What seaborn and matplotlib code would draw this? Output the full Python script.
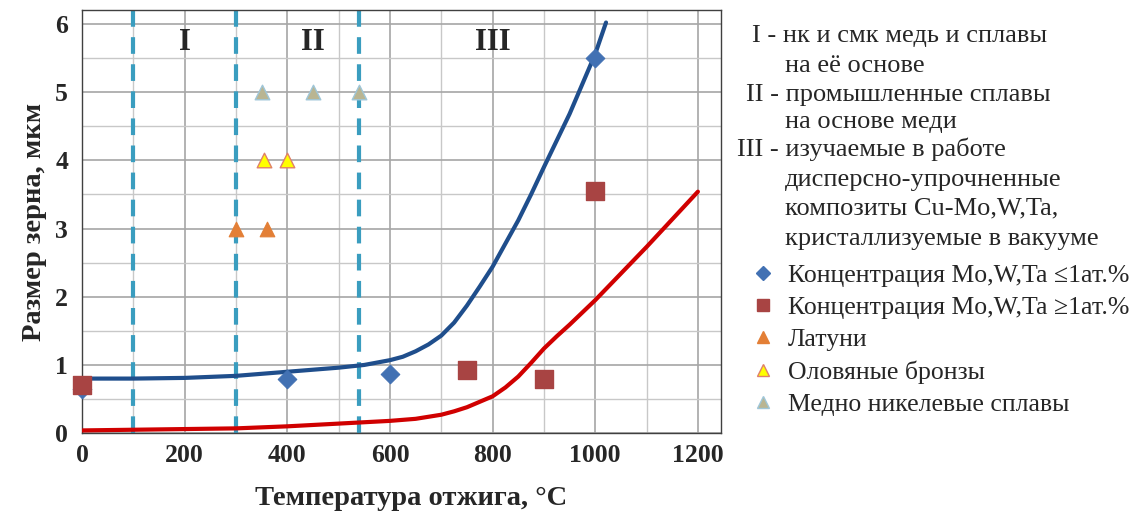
import matplotlib
matplotlib.use("Agg")
import matplotlib.pyplot as plt
import seaborn as sns
from matplotlib.ticker import MultipleLocator
from matplotlib.lines import Line2D

# data
low_x = [0, 400, 600, 1000]
low_y = [0.65, 0.8, 0.87, 5.5]
high_x = [0, 750, 900, 1000]
high_y = [0.7, 0.93, 0.8, 3.55]
brass_x = [300, 360]
brass_y = [3.0, 3.0]
bronze_x = [355, 400]
bronze_y = [4.0, 4.0]
cuni_x = [350, 450, 540]
cuni_y = [5.0, 5.0, 5.0]

blue_curve_x = [0, 100, 200, 300, 400, 500, 550, 600, 625, 650, 675, 700, 725, 750, 775,
                800, 825, 850, 875, 900, 925, 950, 975, 1000, 1021]
blue_curve_y = [0.80, 0.80, 0.81, 0.84, 0.90, 0.96, 1.00, 1.07, 1.12, 1.20, 1.30, 1.43, 1.62,
                1.87, 2.15, 2.44, 2.78, 3.12, 3.50, 3.90, 4.29, 4.68, 5.12, 5.56, 6.02]
red_curve_x = [0, 100, 200, 300, 400, 500, 600, 650, 700, 725, 750, 775, 800, 825, 850, 875,
               900, 925, 950, 1000, 1100, 1200]
red_curve_y = [0.04, 0.05, 0.06, 0.07, 0.10, 0.14, 0.18, 0.21, 0.27, 0.32, 0.38, 0.46, 0.54,
               0.67, 0.83, 1.03, 1.24, 1.42, 1.59, 1.95, 2.73, 3.54]

borders = [100, 300, 540]
regions = ["I", "II", "III"]
region_x = [200, 450, 800]

legend_labels = [
    "Концентрация Mo,W,Ta ≤1ат.%",
    "Концентрация Mo,W,Ta ≥1ат.%",
    "Латуни",
    "Оловяные бронзы",
    "Медно никелевые сплавы",
]
notes = [
    ("I - нк и смк медь и сплавы", 0.660, 0.930),
    ("на её основе", 0.689, 0.872),
    ("II - промышленные сплавы", 0.655, 0.814),
    ("на основе меди", 0.689, 0.762),
    ("III - изучаемые в работе", 0.647, 0.709),
    ("дисперсно-упрочненные", 0.689, 0.648),
    ("композиты Cu-Mo,W,Ta,", 0.689, 0.592),
    ("кристаллизуемые в вакууме", 0.689, 0.534),
]

sns.set_theme(style="white")
serif = ["Liberation Serif", "DejaVu Serif"]
plt.rcParams["font.family"] = serif

fig = plt.figure(figsize=(11.39, 5.12), dpi=100)
ax = fig.add_axes([0.072, 0.154, 0.561, 0.826])

ax.set_xlim(0, 1245)
ax.set_ylim(0, 6.2)
ax.xaxis.set_major_locator(MultipleLocator(200))
ax.xaxis.set_minor_locator(MultipleLocator(100))
ax.yaxis.set_major_locator(MultipleLocator(1))
ax.yaxis.set_minor_locator(MultipleLocator(0.5))
ax.grid(which="major", color="#a6a6a6", lw=1.2)
ax.grid(which="minor", color="#c8c8c8", lw=1.0)
ax.set_axisbelow(True)

for b in borders:
    ax.axvline(b, color="#3a9dbf", lw=3, dashes=(4, 2.5), zorder=2)

sns.lineplot(x=blue_curve_x, y=blue_curve_y, ax=ax, color="#1f4e8c", lw=3, zorder=3)
sns.lineplot(x=red_curve_x, y=red_curve_y, ax=ax, color="#d00000", lw=3, zorder=3)

sns.scatterplot(x=low_x, y=low_y, ax=ax, marker="D", s=90, color="#4271b3",
                edgecolor="#4271b3", zorder=4, clip_on=False)
sns.scatterplot(x=high_x, y=high_y, ax=ax, marker="s", s=150, color="#a84443",
                edgecolor="#a84443", zorder=4, clip_on=False)
sns.scatterplot(x=brass_x, y=brass_y, ax=ax, marker="^", s=110, color="#e37f36",
                edgecolor="#e37f36", zorder=4)
sns.scatterplot(x=bronze_x, y=bronze_y, ax=ax, marker="^", s=110, color="#ffff00",
                edgecolor="#e0806a", linewidth=1, zorder=4)
sns.scatterplot(x=cuni_x, y=cuni_y, ax=ax, marker="^", s=110, color="#b9b592",
                edgecolor="#9fc6d8", linewidth=1, zorder=4)

for name, rx in zip(regions, region_x):
    ax.text(rx, 5.72, name, ha="center", va="center", fontsize=22,
            fontweight="bold", family=serif)

for sp in ax.spines.values():
    sp.set_color("#404040")
    sp.set_linewidth(1)

ax.tick_params(axis="y", which="major", length=6, color="#a6a6a6", labelsize=18.5, pad=4)
ax.tick_params(axis="x", which="major", length=0, labelsize=18.5, pad=8)
for lab in ax.get_xticklabels() + ax.get_yticklabels():
    lab.set_fontweight("bold")

ax.set_xlabel("Температура отжига, °C", fontsize=20.5, fontweight="bold", labelpad=11)
ax.xaxis.set_label_coords(0.515, -0.125)
ax.set_ylabel("Размер зерна, мкм", fontsize=20.5, fontweight="bold", labelpad=6)

for text, fx, fy in notes:
    fig.text(fx, fy, text, fontsize=19, va="center", ha="left", family=serif)

handles = [
    Line2D([], [], ls="", marker="D", ms=7, color="#4271b3"),
    Line2D([], [], ls="", marker="s", ms=9, color="#a84443"),
    Line2D([], [], ls="", marker="^", ms=9, color="#e37f36"),
    Line2D([], [], ls="", marker="^", ms=9, mfc="#ffff00", mec="#e0806a"),
    Line2D([], [], ls="", marker="^", ms=9, mfc="#b9b592", mec="#9fc6d8"),
]
fig.legend(handles, legend_labels, loc="upper left", bbox_to_anchor=(0.651, 0.505),
           frameon=False, fontsize=18.5, handlelength=0.9, handletextpad=0.5,
           labelspacing=0.36, borderaxespad=0)

fig.savefig("out.png", dpi=100)
